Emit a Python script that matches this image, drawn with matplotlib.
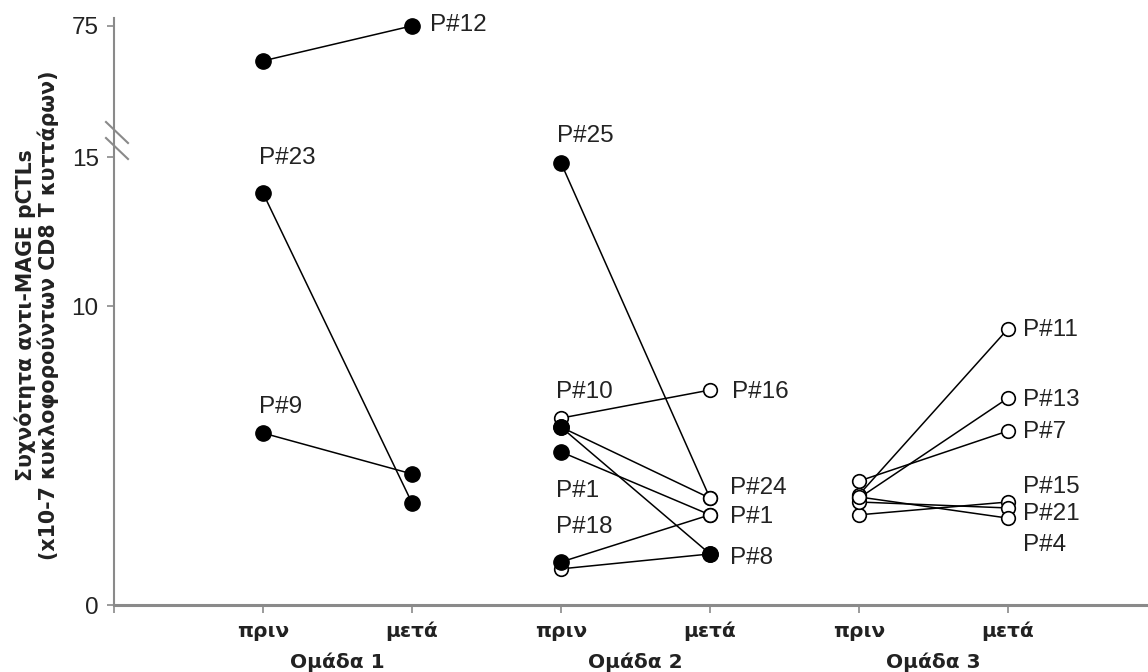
import numpy as np
import matplotlib
matplotlib.use("Agg")
import matplotlib.pyplot as plt
from matplotlib.lines import Line2D
from matplotlib.transforms import blended_transform_factory

# ---- data -------------------------------------------------------------
groups = ["Ομάδα 1", "Ομάδα 2", "Ομάδα 3"]
timepoints = ["πριν", "μετά"]

# Group 1: P#12, P#23, P#9
g1_before = [59.0, 13.80, 5.76]
g1_after = [75.0, 3.42, 4.39]
g1_before_filled = [True, True, True]
g1_after_filled = [True, True, True]

# Group 2
g2_before = [14.81, 6.26, 5.96, 5.96, 5.13, 1.44, 1.21]
g2_after = [3.58, 7.20, 3.58, 1.71, 3.02, 3.02, 1.71]
g2_before_filled = [True, False, True, True, True, True, False]
g2_after_filled = [False, False, False, True, False, False, True]

# Group 3
g3_before = [3.69, 3.58, 4.15, 3.02, 3.45, 3.62]
g3_after = [9.25, 6.93, 5.83, 3.45, 3.25, 2.91]
g3_before_filled = [False] * 6
g3_after_filled = [False] * 6

y_ticks = [0, 10, 15, 75]
y_label = "Συχνότητα αντι-MAGE pCTLs\n(x10-7 κυκλοφορούντων CD8 T κυττάρων)"

# ---- broken y scale: linear up to 15, compressed above ---------------
BREAK = 15.0
K = 0.0733


def fwd(y):
    y = np.asarray(y, dtype=float)
    return np.where(y <= BREAK, y, BREAK + (y - BREAK) * K)


def inv(t):
    t = np.asarray(t, dtype=float)
    return np.where(t <= BREAK, t, BREAK + (t - BREAK) / K)


W, H = 1148, 672
fig = plt.figure(figsize=(W / 100, H / 100), dpi=100)
ax = fig.add_axes([114 / W, 1 - 605 / H, 1 - 114 / W, (605 - 18) / H])
ax.set_yscale("function", functions=(fwd, inv))
ax.set_ylim(0, 78.6)
ax.set_xlim(0, 6.94)

data = [
    (g1_before, g1_after, g1_before_filled, g1_after_filled),
    (g2_before, g2_after, g2_before_filled, g2_after_filled),
    (g3_before, g3_after, g3_before_filled, g3_after_filled),
]

# pairs of x positions (πριν, μετά) for each group
xpos = [(2 * i + 1, 2 * i + 2) for i in range(len(groups))]

open_pts, filled_pts = [], []
for (xb, xa), (bef, aft, bf, af) in zip(xpos, data):
    for b, a, fb, fa in zip(bef, aft, bf, af):
        ax.plot([xb, xa], [b, a], color="black", lw=1.1, zorder=2)
        (filled_pts if fb else open_pts).append((xb, b))
        (filled_pts if fa else open_pts).append((xa, a))

if open_pts:
    ox, oy = zip(*open_pts)
    ax.plot(ox, oy, "o", ls="none", ms=9.8, mfc="white", mec="black",
            mew=1.2, zorder=3)
if filled_pts:
    fx, fy = zip(*filled_pts)
    ax.plot(fx, fy, "o", ls="none", ms=11, mfc="black", mec="black",
            zorder=4)

# ---- patient labels (offsets in pixels from a mark) -------------------
label_font = dict(family="Liberation Sans", size=17.5, color="#222222")
labels = [
    # text, group, line, side(0 before/1 after), dx, dy
    ("P#12", 0, 0, 1, 18, 1),
    ("P#23", 0, 1, 0, -4, 35),
    ("P#9", 0, 2, 0, -4, 26),
    ("P#25", 1, 0, 0, -4, 27),
    ("P#10", 1, 1, 0, -5, 26),
    ("P#1", 1, 4, 0, -5, -39),
    ("P#18", 1, 5, 0, -5, 35),
    ("P#16", 1, 1, 1, 22, -2),
    ("P#24", 1, 2, 1, 20, 10),
    ("P#1", 1, 4, 1, 20, -2),
    ("P#8", 1, 3, 1, 20, -4),
    ("P#11", 2, 0, 1, 15, -1),
    ("P#13", 2, 1, 1, 15, -2),
    ("P#7", 2, 2, 1, 15, -1),
    ("P#15", 2, 3, 1, 15, 15),
    ("P#21", 2, 4, 1, 15, -6),
    ("P#4", 2, 5, 1, 15, -27),
]
for text, g, i, side, dx, dy in labels:
    yv = data[g][side][i]
    ax.annotate(text, xy=(xpos[g][side], yv), xytext=(dx, dy),
                textcoords="offset pixels", ha="left", va="center",
                **label_font)

# ---- axes styling ------------------------------------------------------
axis_grey = "#8a8a8a"
for s in ("top", "right"):
    ax.spines[s].set_visible(False)
ax.spines["left"].set_color(axis_grey)
ax.spines["left"].set_linewidth(1.5)
ax.spines["bottom"].set_color(axis_grey)
ax.spines["bottom"].set_linewidth(2.2)

ax.set_yticks(y_ticks)
ax.set_yticklabels([str(t) for t in y_ticks], family="Liberation Sans",
                   fontsize=17.5, color="#222222")
ax.tick_params(axis="y", direction="out", length=5, width=1.2,
               color=axis_grey, pad=6)

ticks_x = [x for pair in xpos for x in pair]
ax.set_xticks(ticks_x)
ax.set_xticklabels(timepoints * len(groups), family="DejaVu Sans",
                   fontweight="bold", fontsize=14.5, color="#222222")
ax.set_xticks([0], minor=True)
ax.tick_params(axis="x", which="both", direction="out", length=6,
               width=1.2, color=axis_grey, pad=6)

# group names under the time-point labels
trans = blended_transform_factory(ax.transData, fig.transFigure)
for (xb, xa), name in zip(xpos, groups):
    ax.text((xb + xa) / 2, 1 - 662 / H, name, transform=trans,
            ha="center", va="center", family="DejaVu Sans",
            fontweight="bold", fontsize=14.5, color="#222222")

# axis-break marks on the y axis
for y0 in (122, 138):
    fig.add_artist(Line2D([106 / W, 128 / W],
                          [1 - y0 / H, 1 - (y0 + 21) / H],
                          transform=fig.transFigure, color=axis_grey,
                          lw=1.5))

fig.text(37 / W, 1 - 315 / H, y_label, rotation=90, ha="center",
         va="center", multialignment="center", family="DejaVu Sans",
         fontweight="bold", fontsize=14.8, linespacing=1.1,
         color="#222222")

fig.savefig("out.png", dpi=100)
